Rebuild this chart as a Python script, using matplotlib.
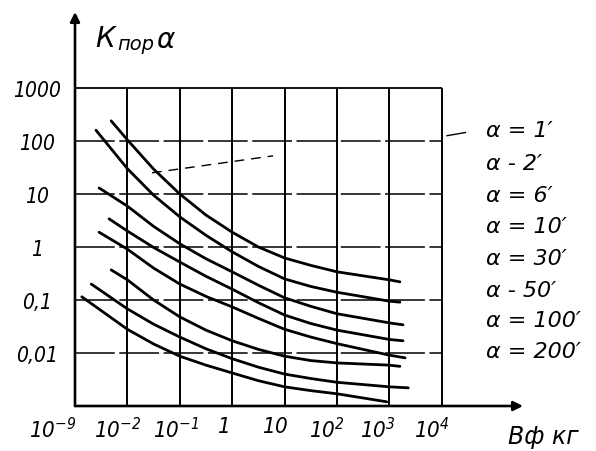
import matplotlib
matplotlib.use("Agg")
import matplotlib.pyplot as plt
import matplotlib.transforms as mtransforms
from matplotlib.ticker import NullLocator

plt.rcParams['font.family'] = ['DejaVu Sans']
plt.rcParams['mathtext.fontset'] = 'custom'
plt.rcParams['mathtext.it'] = 'DejaVu Sans:style=italic:stretch=condensed'
plt.rcParams['mathtext.rm'] = 'DejaVu Sans:style=italic:stretch=condensed'
plt.rcParams['mathtext.default'] = 'it'

# ---------------- data ----------------
x_tick_labels = [r'$10^{-9}$', r'$10^{-2}$', r'$10^{-1}$', r'$1$', r'$10$',
                 r'$10^{2}$', r'$10^{3}$', r'$10^{4}$']
y_ticks = [1000, 100, 10, 1, 0.1, 0.01]
y_tick_labels = ['1000', '100', '10', '1', '0,1', '0,01']
alpha_labels = ["α = 1′", "α - 2′", "α = 6′", "α = 10′",
                "α = 30′", "α - 50′", "α = 100′", "α = 200′"]

# x given in tick-position units of the (non-uniform) B axis
x_a1 = [0.69, 1, 1.5, 2, 2.5, 3, 3.5, 4, 4.5, 5, 6, 6.2]
k_a1 = [240, 105, 29.5, 10, 4.0, 1.9, 1.0, 0.62, 0.45, 0.34, 0.24, 0.22]
x_a2 = [0.40, 1, 1.5, 2, 2.5, 3, 3.5, 4, 4.5, 5, 6, 6.2]
k_a2 = [160, 30, 9.5, 3.7, 1.66, 0.81, 0.43, 0.25, 0.18, 0.14, 0.095, 0.091]
x_a6 = [0.46, 1, 1.5, 2, 2.5, 3, 3.5, 4, 4.5, 5, 6, 6.26]
k_a6 = [13, 5.9, 2.45, 1.15, 0.60, 0.34, 0.19, 0.11, 0.076, 0.055, 0.037, 0.034]
x_a10 = [0.65, 1, 1.5, 2, 2.5, 3, 3.5, 4, 4.5, 5, 6, 6.26]
k_a10 = [3.4, 2.0, 0.98, 0.52, 0.28, 0.16, 0.089, 0.052, 0.036, 0.027, 0.018, 0.017]
x_a30 = [0.46, 1, 1.5, 2, 2.5, 3, 3.5, 4, 4.5, 5, 6, 6.3]
k_a30 = [1.9, 0.91, 0.40, 0.20, 0.117, 0.074, 0.045, 0.028, 0.020, 0.015, 0.0091, 0.0081]
x_a50 = [0.69, 1, 1.5, 2, 2.5, 3, 3.5, 4, 4.5, 5, 6, 6.2]
k_a50 = [0.37, 0.24, 0.10, 0.048, 0.027, 0.017, 0.0117, 0.0087, 0.0072, 0.0065, 0.0059, 0.0056]
x_a100 = [0.31, 1, 1.5, 2, 2.5, 3, 3.5, 4, 4.5, 5, 6, 6.36]
k_a100 = [0.20, 0.068, 0.035, 0.020, 0.012, 0.0078, 0.0054, 0.0040, 0.0033, 0.0028, 0.0023, 0.0022]
x_a200 = [0.13, 1, 1.5, 2, 2.5, 3, 3.5, 4, 4.5, 5, 5.95]
k_a200 = [0.115, 0.028, 0.0148, 0.0087, 0.0059, 0.0042, 0.0030, 0.0023, 0.00195, 0.0017, 0.0012]

curves = [(x_a1, k_a1), (x_a2, k_a2), (x_a6, k_a6), (x_a10, k_a10),
          (x_a30, k_a30), (x_a50, k_a50), (x_a100, k_a100), (x_a200, k_a200)]

# ---------------- layout ----------------
W, H = 596, 452
fig = plt.figure(figsize=(W / 100, H / 100), dpi=100)
fig.patch.set_facecolor('white')

px_x0, px_y0 = 75, 407      # origin in pixels
px_xend, px_ytop = 523, 13  # arrow tips
step_x = 52.4
dec_y = 53.0
ax = fig.add_axes([px_x0 / W, 1 - px_y0 / H,
                   (px_xend - px_x0) / W, (px_y0 - px_ytop) / H])
ax.set_yscale('log')
x_max = (px_xend - px_x0) / step_x
y_min = 1e-3
y_max = 10 ** (3 + (89 - px_ytop) / dec_y)
ax.set_xlim(0, x_max)
ax.set_ylim(y_min, y_max)
for s in ax.spines.values():
    s.set_visible(False)
ax.set_facecolor('none')

# grid
n_x = len(x_tick_labels)
ax.hlines(y_ticks[0], 0, n_x - 1, color='k', lw=1.3)
ax.hlines(y_ticks[1:], 0, n_x - 1, color='k', lw=1.1, linestyles=[(0, (26, 3))])
ax.vlines(range(1, n_x), y_min, y_ticks[0], color='k', lw=1.4)

# axes with arrows
arrow_kw = dict(arrowstyle='-|>', color='k', lw=1.9, mutation_scale=14,
                shrinkA=0, shrinkB=0)
ax.annotate('', xy=(x_max, y_min), xytext=(0, y_min), arrowprops=arrow_kw,
            annotation_clip=False)
ax.annotate('', xy=(0, y_max), xytext=(0, y_min), arrowprops=arrow_kw,
            annotation_clip=False)

# curves
for xs, ks in curves:
    ax.plot(xs, ks, color='k', lw=2.0, solid_capstyle='round',
            solid_joinstyle='round', clip_on=False)

# leader dash near legend and stray dashed stroke (hand drawing marks)
ax.plot([7.1, 7.45], [10 ** 2.1, 10 ** 2.16], color='k', lw=1.0)
ax.plot([1.47, 3.78], [10 ** 1.40, 10 ** 1.72], color='k', lw=1.0,
        linestyle=(0, (7, 5)))

# ticks
tick_font = dict(fontstyle='italic', fontstretch='condensed')
ax.set_xticks(range(n_x))
ax.set_xticklabels(x_tick_labels, fontsize=16, **tick_font)
ax.set_yticks(y_ticks)
ax.set_yticklabels(y_tick_labels, fontsize=15, **tick_font)
ax.yaxis.set_minor_locator(NullLocator())
ax.tick_params(axis='both', length=0)
ax.tick_params(axis='x', pad=7)
ax.tick_params(axis='y', pad=27)
for lab in ax.get_yticklabels():
    lab.set_horizontalalignment('center')
x_label_shift = [-22, -10, -4, -9, -9, -10, -12, -10]
for lab, dx in zip(ax.get_xticklabels(), x_label_shift):
    lab.set_transform(lab.get_transform() +
                      mtransforms.ScaledTranslation(dx / 100, 0, fig.dpi_scale_trans))

# axis titles
fig.text(95 / W, 1 - 47 / H, 'К', fontsize=20, fontstyle='italic', va='baseline')
fig.text(117 / W, 1 - 50 / H, 'пор', fontsize=14, fontstyle='italic', va='baseline')
fig.text(156 / W, 1 - 48 / H, 'α', fontsize=20, fontstyle='italic', va='baseline')
fig.text(508 / W, 1 - 444 / H, 'Вф кг', fontsize=17, fontstyle='italic', va='baseline')

# legend texts
legend_baselines = [137, 170, 202, 233, 265, 297, 327, 358]
for lab, yb in zip(alpha_labels, legend_baselines):
    fig.text(486 / W, 1 - yb / H, lab, fontsize=16, fontstyle='italic', va='baseline')

fig.savefig('out.png', dpi=100, facecolor='white')
